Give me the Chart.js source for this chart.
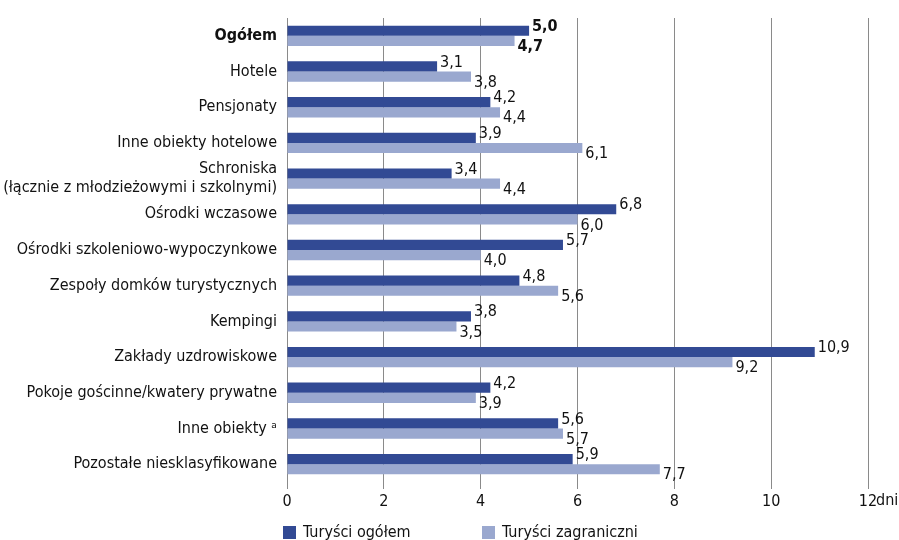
<!DOCTYPE html>
<html lang="pl">
<head>
<meta charset="utf-8">
<title>Przeciętna długość pobytu</title>
<script src="https://cdn.jsdelivr.net/npm/chart.js@4"></script>
<style>
  html, body { margin: 0; padding: 0; background: #fff; overflow: hidden; }
  #box { width: 899px; height: 540px; }
</style>
</head>
<body>
<div id="box"><canvas id="stayChart"></canvas></div>
<script>
'use strict';

//--------> Data <--------
let categories = [
  'Ogółem',
  'Hotele',
  'Pensjonaty',
  'Inne obiekty hotelowe',
  ['Schroniska', '(łącznie z młodzieżowymi i szkolnymi)'],
  'Ośrodki wczasowe',
  'Ośrodki szkoleniowo-wypoczynkowe',
  'Zespoły domków turystycznych',
  'Kempingi',
  'Zakłady uzdrowiskowe',
  'Pokoje gościnne/kwatery prywatne',
  'Inne obiekty ᵃ',
  'Pozostałe niesklasyfikowane'
];
let allTourists = [5.0, 3.1, 4.2, 3.9, 3.4, 6.8, 5.7, 4.8, 3.8, 10.9, 4.2, 5.6, 5.9];
let foreignTourists = [4.7, 3.8, 4.4, 6.1, 4.4, 6.0, 4.0, 5.6, 3.5, 9.2, 3.9, 5.7, 7.7];
let seriesNames = ['Turyści ogółem', 'Turyści zagraniczni'];
let xTicks = [0, 2, 4, 6, 8, 10, 12];
let unitLabel = 'dni';

const darkBlue = '#324a94';
const lightBlue = '#9aa8cf';
const gridGray = '#8a8a8a';
const fontFamily = "'Liberation Sans Narrow', 'DejaVu Sans Condensed', 'Roboto Condensed', sans-serif";

function fmt (v) {
  return v.toFixed(1).replace('.', ',');
}

//--------> Value labels next to the bars <--------
const valueLabels = {
  id: 'valueLabels',
  afterDatasetsDraw (chart) {
    const ctx = chart.ctx;
    ctx.save();
    ctx.textBaseline = 'middle';
    ctx.textAlign = 'left';
    ctx.fillStyle = '#111';
    chart.data.datasets.forEach((ds, di) => {
      const meta = chart.getDatasetMeta(di);
      meta.data.forEach((bar, i) => {
        ctx.font = (i === 0 ? 'bold ' : '') + '16px ' + fontFamily;
        const dy = di === 0 ? -4 : 6;
        ctx.fillText(fmt(ds.data[i]), bar.x + 3, bar.y + dy);
      });
    });
    ctx.restore();
  }
};

//--------> Unit after the last tick and bottom legend <--------
const extras = {
  id: 'extras',
  afterDraw (chart) {
    const ctx = chart.ctx;
    const x = chart.scales.x;
    ctx.save();
    ctx.font = '16px ' + fontFamily;
    ctx.fillStyle = '#111';
    ctx.textBaseline = 'middle';
    ctx.textAlign = 'left';
    const last = x.getPixelForValue(12);
    ctx.fillText(unitLabel, last + 8, 501);

    // legend
    const items = [[283, darkBlue, seriesNames[0]], [482, lightBlue, seriesNames[1]]];
    items.forEach(([lx, col, txt]) => {
      ctx.fillStyle = col;
      ctx.fillRect(lx, 526, 13, 13);
      ctx.fillStyle = '#111';
      ctx.fillText(txt, lx + 20, 533);
    });
    ctx.restore();
  }
};

//--------> Chart <--------
let ctx = document.getElementById('stayChart').getContext('2d');
let stayChart = new Chart(ctx, {
  type: 'bar',
  data: {
    labels: categories,
    datasets: [{
      label: seriesNames[0],
      data: allTourists,
      backgroundColor: darkBlue,
      categoryPercentage: 0.57,
      barPercentage: 1
    }, {
      label: seriesNames[1],
      data: foreignTourists,
      backgroundColor: lightBlue,
      categoryPercentage: 0.57,
      barPercentage: 1
    }]
  },
  options: {
    indexAxis: 'y',
    responsive: true,
    maintainAspectRatio: false,
    animation: false,
    layout: { padding: { left: 0, right: 31, top: 18, bottom: 0 } },
    plugins: {
      legend: { display: false },
      tooltip: { enabled: false }
    },
    scales: {
      x: {
        min: 0,
        max: 12,
        afterBuildTicks: (scale) => { scale.ticks = xTicks.map(v => ({ value: v })); },
        afterFit: (scale) => { scale.height = 58; },
        grid: { color: gridGray, lineWidth: 1, tickLength: 7, drawTicks: true },
        border: { display: false },
        ticks: {
          color: '#111',
          padding: 3,
          font: { family: fontFamily, size: 16 }
        }
      },
      y: {
        afterFit: (scale) => { scale.width = 287; },
        grid: { display: false },
        border: { display: true, color: gridGray, width: 1 },
        ticks: {
          color: '#111',
          padding: 2,
          autoSkip: false,
          font: (c) => ({ family: fontFamily, size: 16, weight: c.index === 0 ? 'bold' : 'normal', lineHeight: 1.2 })
        }
      }
    }
  },
  plugins: [valueLabels, extras]
});
</script>
</body>
</html>
